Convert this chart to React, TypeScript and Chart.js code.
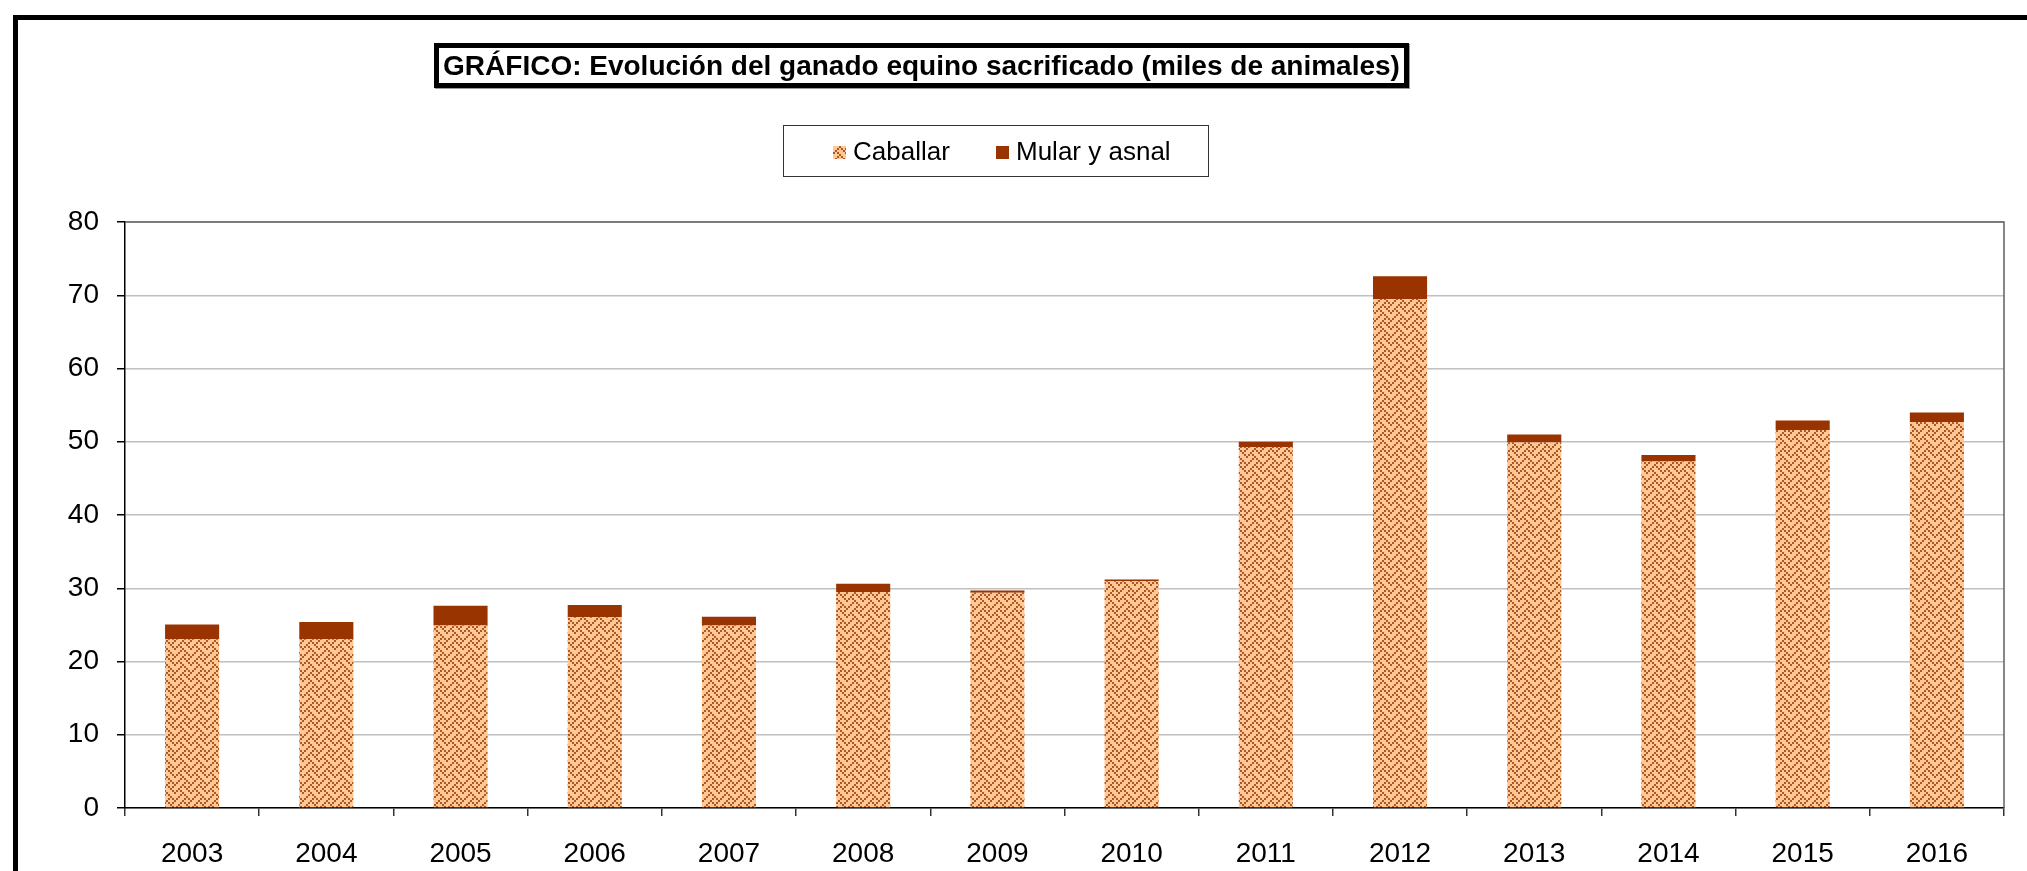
import React, { useEffect, useRef } from "react";
import { Chart, registerables } from "chart.js";

Chart.register(...registerables);

const TITLE = "GRÁFICO: Evolución del ganado equino sacrificado (miles de animales)";
const years = ["2003", "2004", "2005", "2006", "2007", "2008", "2009", "2010", "2011", "2012", "2013", "2014", "2015", "2016"];
const caballar = [23.05, 23.05, 24.9, 26.05, 24.9, 29.5, 29.4, 30.95, 49.3, 69.5, 49.9, 47.3, 51.6, 52.7];
const mular = [2.0, 2.35, 2.7, 1.65, 1.2, 1.1, 0.3, 0.25, 0.7, 3.1, 1.1, 0.9, 1.3, 1.3];
const seriesNames = ["Caballar", "Mular y asnal"];

const FONT = "'Liberation Sans', Arial, sans-serif";
const LIGHT = "#FFC996";
const DARK = "#B25626";
const MULAR = "#993300";
const WEAVE = [0x11, 0x2a, 0x44, 0xa2, 0x11, 0x28, 0x44, 0x8a];

function makeTile(): HTMLCanvasElement {
  const c = document.createElement("canvas");
  c.width = 16;
  c.height = 16;
  const g = c.getContext("2d")!;
  g.fillStyle = LIGHT;
  g.fillRect(0, 0, 16, 16);
  g.fillStyle = DARK;
  for (let r = 0; r < 8; r++) {
    for (let b = 0; b < 8; b++) {
      if ((WEAVE[r] >> (7 - b)) & 1) g.fillRect(b * 2, r * 2, 2, 2);
    }
  }
  return c;
}

const framePlugin = {
  id: "plotFrame",
  afterDraw(chart: any) {
    const { ctx, chartArea } = chart;
    ctx.save();
    ctx.strokeStyle = "#606060";
    ctx.lineWidth = 1.5;
    ctx.beginPath();
    ctx.moveTo(chartArea.left, chartArea.top);
    ctx.lineTo(chartArea.right, chartArea.top);
    ctx.lineTo(chartArea.right, chartArea.bottom);
    ctx.stroke();
    ctx.restore();
  },
};

export default function App() {
  const canvasRef = useRef<HTMLCanvasElement>(null);
  const swatchRef = useRef<HTMLCanvasElement>(null);

  useEffect(() => {
    const tile = makeTile();
    const sw = swatchRef.current;
    if (sw) {
      const sctx = sw.getContext("2d")!;
      sctx.fillStyle = sctx.createPattern(tile, "repeat")!;
      sctx.fillRect(0, 0, sw.width, sw.height);
    }
    const canvas = canvasRef.current!;
    const ctx = canvas.getContext("2d")!;
    const pattern = ctx.createPattern(tile, "repeat")!;
    const chart = new Chart(canvas, {
      type: "bar",
      data: {
        labels: years,
        datasets: [
          { label: seriesNames[0], data: caballar, backgroundColor: pattern as any, borderWidth: 0 },
          { label: seriesNames[1], data: mular, backgroundColor: MULAR, borderWidth: 0 },
        ],
      },
      options: {
        animation: false,
        responsive: false,
        devicePixelRatio: 1,
        layout: { padding: { left: 65, right: 23, top: 222, bottom: 0 } },
        plugins: { legend: { display: false }, title: { display: false }, tooltip: { enabled: false } },
        datasets: { bar: { categoryPercentage: 1, barPercentage: 0.403 } },
        scales: {
          x: {
            stacked: true,
            offset: true,
            grid: { display: true, drawOnChartArea: false, drawTicks: true, tickLength: 8, color: "#333", offset: true, lineWidth: 1.5 },
            border: { display: true, color: "#000", width: 1.5 },
            ticks: { font: { family: FONT, size: 28 }, color: "#000", padding: 21, maxRotation: 0, autoSkip: false },
            afterFit: (s: any) => { s.height = 63; },
          },
          y: {
            stacked: true,
            min: 0,
            max: 80,
            ticks: { stepSize: 10, font: { family: FONT, size: 28 }, color: "#000", padding: 18 },
            grid: { color: "#C0C0C0", lineWidth: 1.5, tickColor: "#000", tickLength: 8 },
            border: { display: true, color: "#000", width: 1.5 },
            afterFit: (s: any) => { s.width = 60; },
          },
        },
      },
      plugins: [framePlugin],
    });
    return () => chart.destroy();
  }, []);

  return (
    <div style={{ position: "absolute", left: 0, top: 0, width: 2027, height: 871, overflow: "hidden", background: "#fff" }}>
      <canvas ref={canvasRef} width={2027} height={871} style={{ position: "absolute", left: 0, top: 0, display: "block" }} />
      <div style={{ position: "absolute", left: 13, top: 15, width: 3000, height: 2000, borderTop: "5px solid #000", borderLeft: "5px solid #000", pointerEvents: "none" }} />
      <div
        style={{
          position: "absolute", left: 434, top: 43, width: 975, height: 45, boxSizing: "border-box",
          border: "5px solid #000", boxShadow: "1px 1px 0 #999", display: "flex", alignItems: "center", justifyContent: "center",
          fontFamily: FONT, fontWeight: "bold", fontSize: 28, color: "#000", whiteSpace: "nowrap", background: "#fff",
        }}
      >
        {TITLE}
      </div>
      <div style={{ position: "absolute", left: 783, top: 125, width: 426, height: 52, boxSizing: "border-box", border: "1px solid #333", background: "#fff", fontFamily: FONT, fontSize: 26, color: "#000" }}>
        <canvas ref={swatchRef} width={13} height={13} style={{ position: "absolute", left: 49, top: 20 }} />
        <span style={{ position: "absolute", left: 69, top: 10, lineHeight: "30px", whiteSpace: "nowrap" }}>{seriesNames[0]}</span>
        <div style={{ position: "absolute", left: 212, top: 20, width: 13, height: 13, background: MULAR }} />
        <span style={{ position: "absolute", left: 232, top: 10, lineHeight: "30px", whiteSpace: "nowrap" }}>{seriesNames[1]}</span>
      </div>
    </div>
  );
}
